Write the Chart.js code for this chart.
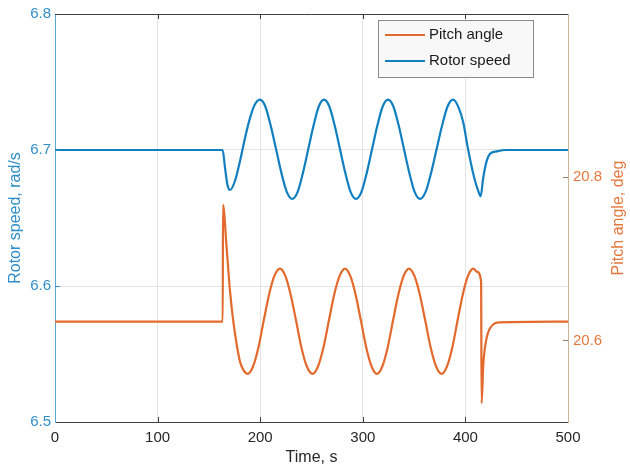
<!DOCTYPE html>
<html>
<head>
<meta charset="utf-8">
<title>Rotor speed and pitch angle</title>
<script src="https://cdn.jsdelivr.net/npm/chart.js@4.4.0/dist/chart.umd.min.js"></script>
<style>
    html, body { margin: 0; padding: 0; background: #ffffff; }
    #wrap { width: 630px; height: 469px; }
</style>
</head>
<body>
<div id="wrap"><canvas id="chart" width="630" height="469"></canvas></div>
<script>
// Time axis ticks
const timeTicks = [0, 100, 200, 300, 400, 500];
const rotorTicks = [6.5, 6.6, 6.7, 6.8];
const pitchTicks = [20.6, 20.8];

// Rotor speed (rad/s)
const timeRotor = [0, 163.4, 165.7, 168, 170.6, 175.4, 180.3, 185.2, 189.5, 194.5,
    199.8, 205, 210.2, 215.5, 220.7, 226, 231.2, 236.4, 241.6, 246.8,
    252, 257.1, 262.2, 267.4, 272.6, 277.8, 283, 288.2, 293.4, 298.6,
    303.8, 309, 314.2, 319.4, 324.6, 329.8, 335, 340.2, 345.4, 350.6,
    355.8, 361.1, 366.5, 371.9, 377.3, 382.6, 388, 393.5, 398, 402,
    406, 409.5, 412.5, 414.9, 417.4, 420.7, 424, 430.5, 440, 500];
const rotorSpeed = [6.7, 6.7, 6.687, 6.6747, 6.6706, 6.6772, 6.6918, 6.7089, 6.722, 6.733,
    6.737, 6.732, 6.718, 6.7005, 6.683, 6.669, 6.664, 6.669, 6.683, 6.7005,
    6.718, 6.732, 6.737, 6.732, 6.718, 6.7005, 6.683, 6.669, 6.664, 6.669,
    6.683, 6.7005, 6.718, 6.732, 6.737, 6.732, 6.718, 6.7005, 6.683, 6.669,
    6.664, 6.669, 6.683, 6.7005, 6.718, 6.732, 6.737, 6.731, 6.72, 6.703,
    6.688, 6.677, 6.67, 6.666, 6.6796, 6.6918, 6.6972, 6.699, 6.7, 6.7];

// Pitch angle (deg)
const timePitch = [0, 163.5, 163.7, 167.3, 170.6, 173.8, 177.1, 180.3, 184, 187.8,
    193, 198.2, 203.4, 208.6, 213.8, 219.3, 224.5, 229.7, 235, 240.2,
    245.5, 251, 256.3, 261.6, 266.9, 272.1, 277.4, 282.6, 287.8, 293,
    298.2, 303.4, 308.6, 313.8, 319, 324.2, 329.4, 334.6, 339.8, 345,
    350.3, 355.6, 360.9, 366.2, 371.5, 376.8, 382, 387.2, 392.3, 397.4,
    402.5, 407.6, 411.5, 415.3, 415.8, 417.4, 420.7, 424, 428.9, 433.7, 500];
const pitchAngle = [20.623, 20.623, 20.766, 20.713, 20.66, 20.623, 20.595, 20.574, 20.563, 20.559,
    20.568, 20.591, 20.624, 20.656, 20.679, 20.688, 20.679, 20.656, 20.624, 20.591,
    20.568, 20.559, 20.568, 20.591, 20.624, 20.656, 20.679, 20.688, 20.679, 20.656,
    20.624, 20.591, 20.568, 20.559, 20.568, 20.591, 20.624, 20.656, 20.679, 20.688,
    20.679, 20.656, 20.624, 20.591, 20.568, 20.559, 20.568, 20.591, 20.624, 20.656,
    20.679, 20.688, 20.684, 20.672, 20.523, 20.57, 20.603, 20.615, 20.621, 20.622, 20.623];

const blueLine = '#117fc0';
const orangeLine = '#e36a2c';
const blueText = '#2f8fc8';
const orangeText = '#e5773e';
const pitchTitle = 'Pitch angle, deg';

Chart.defaults.font.family = "'Liberation Sans', Arial, sans-serif";
Chart.defaults.font.size = 15;

// legend box inside the plot, right axis title, top frame line and inward ticks
const framePlugin = {
    id: 'frame',
    afterDraw(chart) {
        const ctx = chart.ctx;
        const a = chart.chartArea;
        const sx = chart.scales.x, sy = chart.scales.y, sy1 = chart.scales.y1;
        ctx.save();
        ctx.lineWidth = 1;

        // top frame
        ctx.strokeStyle = '#404040';
        ctx.beginPath();
        ctx.moveTo(a.left, a.top + 0.5);
        ctx.lineTo(a.right, a.top + 0.5);
        ctx.stroke();

        // inward ticks on x (bottom and top)
        timeTicks.slice(1, -1).forEach(v => {
            const px = Math.round(sx.getPixelForValue(v)) + 0.5;
            ctx.beginPath();
            ctx.moveTo(px, a.bottom);
            ctx.lineTo(px, a.bottom - 5);
            ctx.moveTo(px, a.top);
            ctx.lineTo(px, a.top + 5);
            ctx.stroke();
        });
        // inward ticks on left axis
        ctx.strokeStyle = blueText;
        rotorTicks.slice(1, -1).forEach(v => {
            const py = Math.round(sy.getPixelForValue(v)) + 0.5;
            ctx.beginPath();
            ctx.moveTo(a.left, py);
            ctx.lineTo(a.left + 5, py);
            ctx.stroke();
        });
        // inward ticks on right axis
        ctx.strokeStyle = '#9a7f66';
        pitchTicks.forEach(v => {
            const py = Math.round(sy1.getPixelForValue(v)) + 0.5;
            ctx.beginPath();
            ctx.moveTo(a.right, py);
            ctx.lineTo(a.right - 5, py);
            ctx.stroke();
        });

        // right axis title, reading bottom to top
        ctx.save();
        ctx.translate(619, (a.top + a.bottom) / 2);
        ctx.rotate(-Math.PI / 2);
        ctx.font = "16px 'Liberation Sans', Arial, sans-serif";
        ctx.fillStyle = orangeText;
        ctx.textAlign = 'center';
        ctx.textBaseline = 'middle';
        ctx.fillText(pitchTitle, 0, 0);
        ctx.restore();

        // legend
        const lx = 378, ly = 20, lw = 155, lh = 57;
        ctx.fillStyle = '#f8f8f8';
        ctx.fillRect(lx, ly, lw, lh);
        ctx.strokeStyle = '#8a8a8a';
        ctx.lineWidth = 1;
        ctx.strokeRect(lx + 0.5, ly + 0.5, lw, lh);
        const items = [
            { label: chart.data.datasets[0].label, color: orangeLine, y: 35 },
            { label: chart.data.datasets[1].label, color: blueLine, y: 61 }
        ];
        ctx.font = "15px 'Liberation Sans', Arial, sans-serif";
        ctx.textBaseline = 'middle';
        ctx.textAlign = 'left';
        items.forEach(it => {
            ctx.strokeStyle = it.color;
            ctx.lineWidth = 2;
            ctx.beginPath();
            ctx.moveTo(385, it.y);
            ctx.lineTo(425, it.y);
            ctx.stroke();
            ctx.fillStyle = '#1a1a1a';
            ctx.fillText(it.label, 429, it.y);
        });
        ctx.restore();
    }
};

const ctx = document.getElementById('chart').getContext('2d');
new Chart(ctx, {
    type: 'line',
    data: {
        datasets: [{
            label: 'Pitch angle',
            data: timePitch.map((t, i) => ({ x: t, y: pitchAngle[i] })),
            yAxisID: 'y1',
            borderColor: orangeLine,
            borderWidth: 2.2,
            pointRadius: 0,
            cubicInterpolationMode: 'monotone',
            fill: false
        }, {
            label: 'Rotor speed',
            data: timeRotor.map((t, i) => ({ x: t, y: rotorSpeed[i] })),
            yAxisID: 'y',
            borderColor: blueLine,
            borderWidth: 2.2,
            pointRadius: 0,
            cubicInterpolationMode: 'monotone',
            fill: false
        }]
    },
    options: {
        responsive: false,
        animation: false,
        layout: { padding: { top: 12, left: 0, right: 0, bottom: 0 } },
        plugins: {
            legend: { display: false },
            tooltip: { enabled: false }
        },
        scales: {
            x: {
                type: 'linear',
                min: 0,
                max: 500,
                afterFit: s => { s.height = 47; },
                afterBuildTicks: s => { s.ticks = timeTicks.map(v => ({ value: v })); },
                ticks: { color: '#262626', padding: 7, maxRotation: 0 },
                grid: { color: '#e4e4e4', drawTicks: false },
                border: { color: '#404040' },
                title: {
                    display: true,
                    text: 'Time, s',
                    color: '#262626',
                    font: { size: 16 },
                    padding: { top: 0, bottom: 2 }
                }
            },
            y: {
                position: 'left',
                min: 6.5,
                max: 6.8,
                afterFit: s => { s.width = 55; },
                afterBuildTicks: s => { s.ticks = rotorTicks.map(v => ({ value: v })); },
                ticks: { color: blueText, padding: 4, callback: v => v.toFixed(1) },
                grid: { color: '#e4e4e4', drawTicks: false },
                border: { color: '#5aa7d3' },
                title: {
                    display: true,
                    text: 'Rotor speed, rad/s',
                    color: blueText,
                    font: { size: 16 },
                    padding: { top: 6, bottom: 0 }
                }
            },
            y1: {
                position: 'right',
                min: 20.5,
                max: 21.0,
                afterFit: s => { s.width = 62; },
                afterBuildTicks: s => { s.ticks = pitchTicks.map(v => ({ value: v })); },
                ticks: { color: orangeText, padding: 5, callback: v => v.toFixed(1) },
                grid: { display: false, drawTicks: false },
                border: { color: '#cdb497' },
                title: { display: false }
            }
        }
    },
    plugins: [framePlugin]
});
</script>
</body>
</html>
